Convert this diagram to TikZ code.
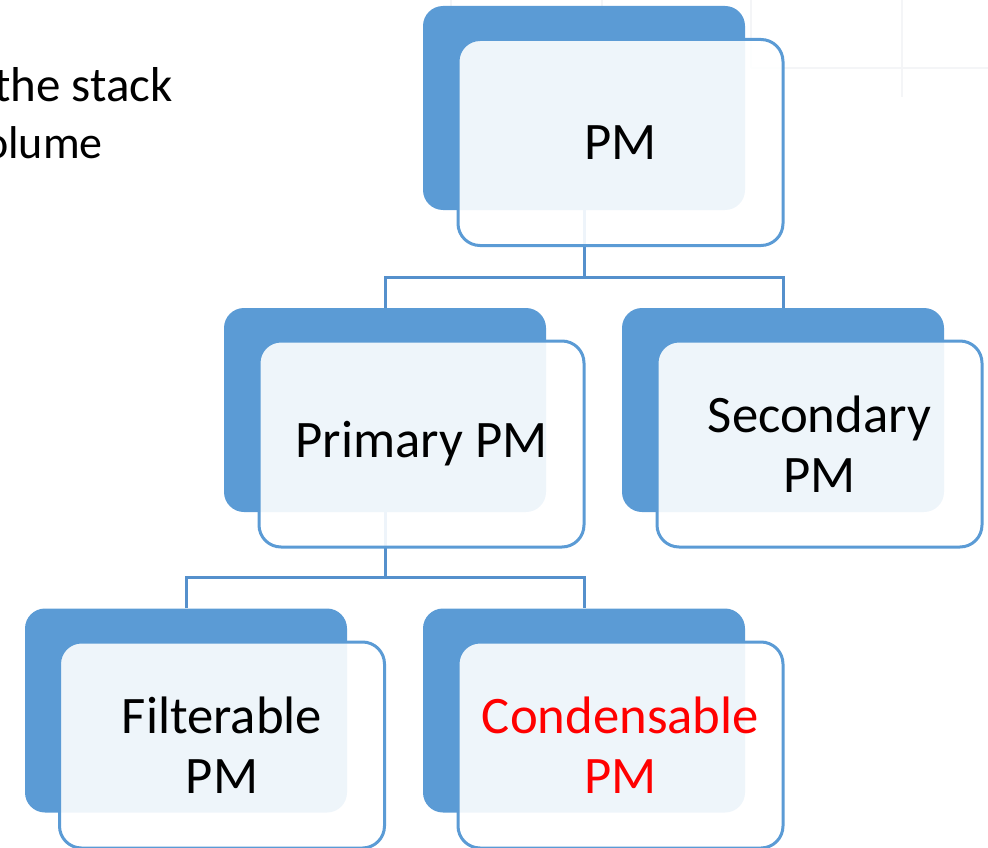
\documentclass[tikz,border=0pt]{standalone}
\usepackage{fontspec}
\setmainfont{Carlito}
\definecolor{accent}{HTML}{5B9BD5}
\definecolor{linkc}{HTML}{5590CC}
\definecolor{faint}{HTML}{F4F5F7}
\begin{document}
\begin{tikzpicture}[x=1pt,y=-1pt,
  backbox/.style={draw=none,fill=accent,rounded corners=20pt,minimum width=322pt,minimum height=204pt,inner sep=0pt},
  frontbox/.style={draw=accent,line width=3pt,fill=white,fill opacity=0.9,draw opacity=1,text opacity=1,rounded corners=22pt,minimum width=325pt,minimum height=206pt,inner sep=0pt,align=center,font=\fontsize{52.7}{60}\selectfont},
  link/.style={draw=linkc,line width=3pt},
  slidetext/.style={font=\fontsize{49}{56}\selectfont,inner sep=0pt}]
\useasboundingbox (0,0) rectangle (988,848);
\clip (0,0) rectangle (988,848);
% faint background grid of the slide
\draw[faint,line width=1.5pt] (751,0) -- (751,68) (902,0) -- (902,97) (751,68) -- (988,68) (451,0) -- (451,6) (602,0) -- (602,6);
% slide text, cut at the left edge
\node[slidetext,anchor=base east] (t1) at (173,102) {the stack};
\node[slidetext,anchor=base east,font=\fontsize{46}{56}\selectfont] (t2) at (103,158) {olume};
% back box positions
\node[backbox,fill=none] (pmb) at (584,108) {};
\node[backbox,fill=none] (prb) at (385,410) {};
\node[backbox,fill=none] (seb) at (783,410) {};
\node[backbox,fill=none] (fib) at (186,710.5) {};
\node[backbox,fill=none] (cob) at (584,710.5) {};
% connectors (behind boxes)
\path[link] (pmb.south) -- ++(0,67) coordinate (j1);
\path[link] (prb.north) |- (j1) -| (seb.north);
\path[link] (prb.south) -- ++(0,65) coordinate (j2);
\path[link] (fib.north) |- (j2) -| (cob.north);
% back boxes above connectors
\node[backbox] at (pmb) {};
\node[backbox] at (prb) {};
\node[backbox] at (seb) {};
\node[backbox] at (fib) {};
\node[backbox] at (cob) {};
% front boxes
\node[frontbox] (pmf) at (620.5,142.5) {PM};
\node[frontbox] (prf) at (421.5,444) {Primary PM};
\node[frontbox] (sef) at (819.5,444) {Secondary\\PM};
\node[frontbox] (fif) at (222,745) {Filterable\\PM};
\node[frontbox,text=red] (cof) at (620.5,745) {Condensable\\PM};
\end{tikzpicture}
\end{document}
